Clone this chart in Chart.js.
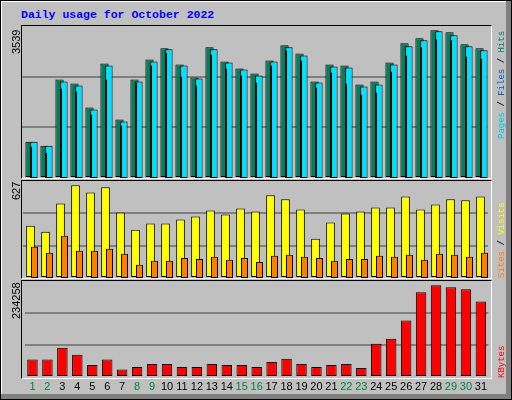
<!DOCTYPE html>
<html>
<head>
<meta charset="utf-8">
<script src="https://cdn.jsdelivr.net/npm/chart.js@4/dist/chart.umd.min.js"></script>
<style>
  body { margin: 0; }
  #frame { position: relative; width: 510px; height: 398px; border: 1px solid #000; background: #c0c0c0;
           box-shadow: inset -5px -5px 0 #808080, inset 1px 1px 0 #fff; overflow: hidden; }
  .panel { position: absolute; left: 20px; width: 469px; border: 1px solid #000; border-right-color: #fff; border-bottom-color: #fff; }
  canvas { position: absolute; }
  .rot { position: absolute; transform: rotate(-90deg); transform-origin: left top; white-space: nowrap; }
  .val { font: 11px "Liberation Sans", sans-serif; color: #000; line-height: 12px; }
  .leg { font: 9px "Liberation Mono", monospace; line-height: 10px; }
  #title { position: absolute; left: 20px; top: 7px; font: bold 11.5px "Liberation Mono", monospace; color: #0000ff; }
</style>
</head>
<body>
<div id="frame">
  <div id="title">Daily usage for October 2022</div>
  <div class="panel" style="top:24px;height:152px"></div>
  <div class="panel" style="top:179px;height:97px"></div>
  <div class="panel" style="top:279px;height:97px"></div>
  <canvas id="hitsC" width="465" height="152" style="left:21px;top:25px"></canvas>
  <canvas id="filesC" width="465" height="152" style="left:24px;top:25px"></canvas>
  <canvas id="visitsC" width="465" height="97" style="left:22px;top:180px"></canvas>
  <canvas id="sitesC" width="465" height="97" style="left:26px;top:180px"></canvas>
  <canvas id="kbC" width="465" height="117" style="left:24px;top:280px"></canvas>

  <div class="rot val" style="left:9px;top:53px">3539</div>
  <div class="rot val" style="left:9px;top:199px">627</div>
  <div class="rot val" style="left:9px;top:318px">234258</div>

  <div class="rot leg" style="left:496px;top:138px"><span style="color:#00c8e8">Pages</span> / <span style="color:#0060c0">Files</span> / <span style="color:#008060">Hits</span></div>
  <div class="rot leg" style="left:496px;top:277px"><span style="color:#ff8000">Sites</span> / <span style="color:#ffff00">Visits</span></div>
  <div class="rot leg" style="left:496px;top:377px"><span style="color:#ff0000">KBytes</span></div>
</div>
<script>
const days = ['1','2','3','4','5','6','7','8','9','10','11','12','13','14','15','16','17','18','19','20','21','22','23','24','25','26','27','28','29','30','31'];
const weekend = ['1','2','8','9','15','16','22','23','29','30'];

const hits = [870, 774, 2361, 2265, 1688, 2746, 1399, 2361, 2842, 3106, 2722, 2409, 3130, 2794, 2625, 2505, 2818, 3178, 2986, 2313, 2722, 2697, 2241, 2313, 2770, 3226, 3347, 3539, 3491, 3202, 3106];
const files = [870, 774, 2313, 2217, 1640, 2697, 1351, 2313, 2794, 3082, 2697, 2385, 3082, 2770, 2601, 2457, 2794, 3130, 2938, 2289, 2673, 2649, 2193, 2241, 2722, 3154, 3298, 3515, 3419, 3154, 3058];
const pages = [750, 606, 2144, 2072, 1519, 2361, 1255, 2289, 2697, 3010, 2433, 2217, 2962, 2625, 2457, 2289, 2697, 3058, 2818, 2168, 2529, 2265, 2000, 2048, 2553, 2938, 3130, 3322, 3298, 2914, 2866];
const visits = [354, 313, 504, 627, 579, 613, 443, 327, 368, 368, 395, 416, 457, 429, 470, 450, 559, 532, 463, 266, 375, 436, 450, 477, 477, 552, 463, 497, 532, 525, 552];
const sites = [211, 170, 286, 184, 184, 198, 164, 89, 116, 116, 136, 129, 143, 123, 136, 109, 150, 157, 143, 136, 116, 129, 129, 150, 143, 157, 123, 164, 157, 143, 170];
const kbytes = [44621, 44621, 74655, 56635, 30892, 44621, 18878, 25743, 33466, 33466, 25743, 25743, 33466, 30892, 30892, 25743, 38615, 46337, 33466, 25743, 30892, 33466, 23169, 84952, 97823, 144161, 216241, 234258, 229113, 223964, 193073];

function makeChart(id, datasets, yMax, grid, withLabels) {
  const gridColor = ctx => (ctx.tick.value > 0 && ctx.tick.value < yMax - 1) ? '#808080' : 'rgba(0,0,0,0)';
  const xAxis = {
    display: withLabels,
    grid: { display: false, drawTicks: false },
    border: { display: false },
    ticks: {
      padding: 3,
      autoSkip: false,
      maxRotation: 0,
      font: { family: 'Liberation Sans', size: 11 },
      color: ctx => weekend.includes(days[ctx.index]) ? '#008040' : '#000000'
    }
  };
  if (withLabels) xAxis.afterFit = s => { s.height = 21; };
  new Chart(document.getElementById(id), {
    type: 'bar',
    data: { labels: days, datasets: datasets },
    options: {
      responsive: false,
      animation: false,
      layout: { padding: 0 },
      plugins: { legend: { display: false }, tooltip: { enabled: false } },
      scales: {
        x: xAxis,
        y: {
          min: 0, max: yMax,
          ticks: { display: false, stepSize: yMax / 3 },
          grid: { display: grid, color: gridColor, drawTicks: false, lineWidth: 2 },
          border: { display: false },
          afterFit: s => { s.width = 0; }
        }
      }
    }
  });
}

const bar = (data, color, catPct, barPct) => ({
  data: data, backgroundColor: color, borderColor: '#000', borderWidth: 1, borderSkipped: false,
  categoryPercentage: catPct, barPercentage: barPct
});

makeChart('hitsC', [bar(hits, '#00805c', 1, 0.55)], 3642, true, false);
makeChart('filesC', [bar(pages, '#0040ff', 0.36, 0.74), bar(files, '#00e0ff', 0.36, 2.78)], 3642, false, false);
makeChart('visitsC', [bar(visits, '#ffff00', 1, 0.58)], 656, true, false);
makeChart('sitesC', [bar(sites, '#ff8000', 1, 0.47)], 656, false, false);
makeChart('kbC', [bar(kbytes, '#ff0000', 1, 0.7)], 245243, true, true);
</script>
</body>
</html>
